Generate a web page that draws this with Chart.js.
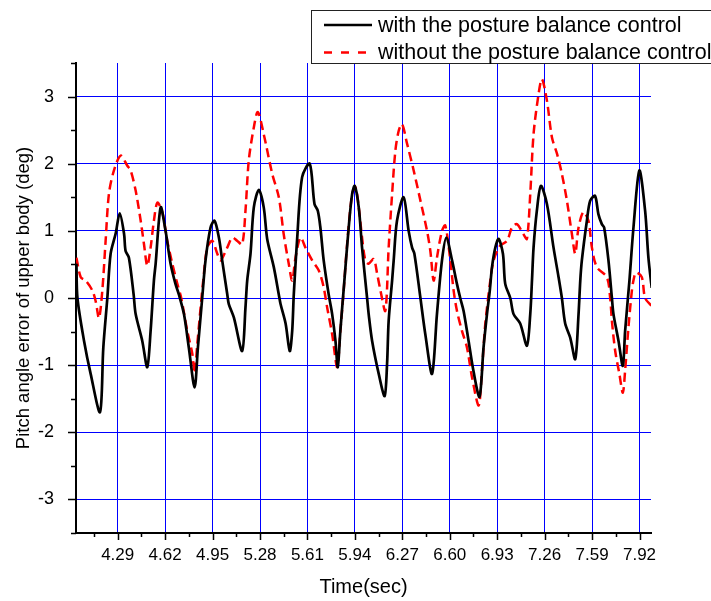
<!DOCTYPE html>
<html>
<head>
<meta charset="utf-8">
<script src="https://cdn.jsdelivr.net/npm/chart.js@4.4.1/dist/chart.umd.min.js"></script>
<style>
  html, body { margin: 0; padding: 0; background: #fff; }
  #wrap { width: 711px; height: 601px; }
</style>
</head>
<body>
<div id="wrap"><canvas id="myChart" width="711" height="601"></canvas></div>
<script>
const seriesNames = ['with the posture balance control', 'without the posture balance control'];

const timeWith = [4.003,4.010,4.056,4.102,4.167,4.190,4.218,4.241,4.276,4.304,
  4.334,4.345,4.368,4.401,4.415,4.461,4.496,4.519,4.542,4.554,
  4.589,4.623,4.658,4.692,4.716,4.751,4.785,4.825,4.848,4.878,
  4.901,4.936,4.964,4.994,5.017,5.052,5.063,5.098,5.156,5.179,
  5.191,5.214,5.237,5.272,5.306,5.330,5.376,5.411,5.423,5.458,
  5.487,5.504,5.515,5.539,5.573,5.626,5.659,5.682,5.700,5.723,
  5.758,5.782,5.805,5.821,5.839,5.867,5.897,5.921,5.939,5.967,
  5.990,6.025,6.036,6.060,6.106,6.147,6.164,6.175,6.199,6.210,
  6.233,6.279,6.314,6.338,6.354,6.396,6.430,6.477,6.511,6.546,
  6.576,6.616,6.650,6.673,6.696,6.731,6.766,6.807,6.835,6.859,
  6.878,6.894,6.917,6.940,6.970,6.986,7.021,7.044,7.090,7.137,
  7.160,7.172,7.183,7.206,7.234,7.276,7.322,7.357,7.380,7.403,
  7.438,7.473,7.496,7.508,7.519,7.554,7.577,7.611,7.634,7.658,
  7.674,7.704,7.728,7.739,7.774,7.804,7.820,7.850,7.878,7.919,
  7.959,7.982,8.005];
const pitchWith = [0.51,0,-0.64,-1.13,-1.70,-0.74,0,0.66,0.96,1.26,
  0.96,0.70,0.60,0.05,-0.24,-0.64,-1.03,-0.49,0.26,0.51,
  1.35,1.0,0.51,0.21,0.05,-0.24,-0.74,-1.33,-0.74,0,
  0.56,1.05,1.15,0.9,0.56,0.06,-0.09,-0.29,-0.79,-0.14,
  0.26,0.66,1.35,1.61,1.35,0.88,0.46,0.05,-0.09,-0.38,
  -0.79,-0.49,0.05,0.9,1.80,2.0,1.40,1.30,1.05,0.56,
  0.05,-0.24,-0.64,-1.03,-0.49,0.26,1.05,1.55,1.67,1.35,
  0.75,0,-0.24,-0.64,-1.13,-1.46,-0.98,-0.34,0.26,0.56,
  1.15,1.50,1.0,0.75,0.66,0,-0.54,-1.13,-0.24,0.56,
  0.90,0.56,0.21,0,-0.19,-0.64,-1.10,-1.47,-0.74,-0.24,
  0.10,0.46,0.75,0.88,0.66,0.21,0,-0.24,-0.38,-0.71,
  -0.24,0.26,0.75,1.30,1.67,1.40,0.75,0.31,0,-0.38,
  -0.59,-0.91,-0.24,0.26,0.56,1.15,1.45,1.52,1.25,1.10,
  1.05,0.56,0,-0.24,-0.64,-1.01,-0.49,0.26,1.05,1.90,
  1.30,0.6,0.15];

const timeWithout = [4.003,4.033,4.067,4.114,4.137,4.160,4.183,4.206,4.229,4.264,
  4.311,4.357,4.380,4.415,4.450,4.473,4.496,4.519,4.542,4.566,
  4.600,4.635,4.670,4.705,4.732,4.774,4.809,4.825,4.844,4.867,
  4.885,4.913,4.948,4.983,5.006,5.052,5.087,5.122,5.156,5.179,
  5.202,5.237,5.265,5.306,5.365,5.411,5.445,5.480,5.504,5.527,
  5.562,5.596,5.643,5.689,5.723,5.747,5.782,5.817,5.839,5.862,
  5.886,5.921,5.944,5.967,5.990,6.013,6.036,6.071,6.095,6.118,
  6.152,6.175,6.199,6.222,6.245,6.268,6.303,6.349,6.396,6.442,
  6.465,6.488,6.511,6.546,6.569,6.604,6.627,6.650,6.685,6.720,
  6.755,6.801,6.824,6.847,6.882,6.905,6.951,6.998,7.033,7.067,
  7.113,7.137,7.160,7.183,7.218,7.241,7.276,7.311,7.346,7.380,
  7.415,7.450,7.473,7.496,7.530,7.565,7.589,7.623,7.693,7.716,
  7.728,7.751,7.780,7.804,7.820,7.843,7.867,7.878,7.896,7.936,
  7.959,8.005];
const pitchWithout = [0.60,0.31,0.26,0.11,-0.05,-0.30,0.11,0.85,1.55,1.90,
  2.12,1.97,1.90,1.60,1.15,0.80,0.48,0.75,1.15,1.42,
  1.28,0.85,0.51,0.21,0.0,-0.49,-0.83,-1.12,-0.68,-0.14,
  0.26,0.75,0.85,0.66,0.56,0.75,0.90,0.85,0.80,1.30,
  2.05,2.54,2.77,2.44,1.85,1.50,0.95,0.51,0.26,0.60,
  0.90,0.75,0.56,0.41,0.16,-0.14,-0.54,-1.03,-0.49,0.11,
  0.80,1.55,1.65,1.35,0.90,0.56,0.51,0.58,0.36,0.11,
  -0.19,0.75,1.55,2.20,2.49,2.59,2.30,1.90,1.45,1.0,
  0.70,0.26,0.60,1.0,1.08,0.56,0.11,-0.19,-0.49,-0.74,
  -1.18,-1.60,-1.08,-0.39,0.26,0.56,0.78,0.85,1.05,1.10,
  0.95,0.88,1.55,2.44,3.04,3.26,2.94,2.39,2.15,1.85,
  1.45,0.95,0.66,1.05,1.28,1.15,0.75,0.46,0.31,0.0,
  -0.34,-0.79,-1.13,-1.41,-1.08,-0.44,0.11,0.26,0.38,0.31,
  0.0,-0.12];

const xTickLabels = ['4.29','4.62','4.95','5.28','5.61','5.94','6.27','6.60','6.93','7.26','7.59','7.92'];
const yTickLabels = ['-3','-2','-1','0','1','2','3'];

const toPoints = (xs, ys) => xs.map((x, i) => ({ x: x, y: ys[i] }));

// tick marks (major + minor) drawn outside the axes
const tickMarks = {
  id: 'tickMarks',
  afterDraw(chart) {
    const { ctx, chartArea, scales } = chart;
    ctx.save();
    ctx.strokeStyle = '#000';
    ctx.lineWidth = 1.5;
    const xs = scales.x, ys = scales.y;
    const xMaj = xTickLabels.map(parseFloat);
    const xStep = xMaj[1] - xMaj[0];
    const xMin = [xMaj[0] - xStep / 2].concat(xMaj.map(v => v + xStep / 2));
    const yMaj = yTickLabels.map(parseFloat);
    const yMin = [yMaj[0] - 0.5].concat(yMaj.map(v => v + 0.5));
    ctx.beginPath();
    xMaj.forEach(v => {
      const p = Math.round(xs.getPixelForValue(v)) + 0.5;
      ctx.moveTo(p, chartArea.bottom); ctx.lineTo(p, chartArea.bottom + 7);
    });
    xMin.forEach(v => {
      if (v < xs.min || v > xs.max) return;
      const p = Math.round(xs.getPixelForValue(v)) + 0.5;
      ctx.moveTo(p, chartArea.bottom); ctx.lineTo(p, chartArea.bottom + 4);
    });
    yMaj.forEach(v => {
      const p = Math.round(ys.getPixelForValue(v)) + 0.5;
      ctx.moveTo(chartArea.left, p); ctx.lineTo(chartArea.left - 8, p);
    });
    yMin.forEach(v => {
      if (v < ys.min || v > ys.max) return;
      const p = Math.round(ys.getPixelForValue(v)) + 0.5;
      ctx.moveTo(chartArea.left, p); ctx.lineTo(chartArea.left - 5, p);
    });
    ctx.stroke();
    ctx.restore();
  }
};

// boxed legend at the top right
const boxLegend = {
  id: 'boxLegend',
  afterDraw(chart) {
    const { ctx } = chart;
    ctx.save();
    ctx.strokeStyle = '#222';
    ctx.lineWidth = 1;
    ctx.strokeRect(311.5, 10.5, 460, 53);
    ctx.font = '21.5px "Liberation Sans", Arial, sans-serif';
    ctx.fillStyle = '#000';
    ctx.textBaseline = 'middle';
    const rows = [25, 52.5];
    chart.data.datasets.forEach((ds, i) => {
      const y = rows[i];
      ctx.beginPath();
      ctx.strokeStyle = ds.borderColor;
      ctx.lineWidth = 2.7;
      ctx.setLineDash(i === 1 ? [8, 9] : []);
      ctx.moveTo(324, y); ctx.lineTo(372, y);
      ctx.stroke();
      ctx.setLineDash([]);
      ctx.fillText(ds.label, 378, y + 1);
    });
    ctx.restore();
  }
};

Chart.defaults.color = '#000';
Chart.defaults.font.family = '"Liberation Sans", Arial, sans-serif';

const config = {
  type: 'line',
  data: {
    datasets: [
      {
        label: seriesNames[0],
        data: toPoints(timeWith, pitchWith),
        borderColor: '#000000',
        borderWidth: 2.7,
        pointRadius: 0,
        tension: 0.3,
        order: 1
      },
      {
        label: seriesNames[1],
        data: toPoints(timeWithout, pitchWithout),
        borderColor: '#ff0000',
        borderWidth: 2.5,
        borderDash: [9, 5],
        pointRadius: 0,
        tension: 0.3,
        order: 2
      }
    ]
  },
  options: {
    responsive: false,
    animation: false,
    layout: { padding: { left: 0, top: 63, right: 60, bottom: 0 } },
    plugins: { legend: { display: false }, tooltip: { enabled: false } },
    scales: {
      x: {
        type: 'linear',
        min: 4.0,
        max: 8.0,
        afterBuildTicks: (scale) => { scale.ticks = xTickLabels.map(v => ({ value: parseFloat(v) })); },
        afterFit: (scale) => { scale.height = 68; },
        ticks: {
          autoSkip: false,
          maxRotation: 0,
          padding: 12,
          font: { size: 17 },
          callback: (value, index) => xTickLabels[index]
        },
        grid: { color: '#0000ff', lineWidth: 1, drawTicks: false },
        border: { display: true, color: '#000', width: 2 },
        title: {
          display: true,
          text: 'Time(sec)',
          font: { size: 20 },
          padding: { top: 0, bottom: 2 }
        }
      },
      y: {
        type: 'linear',
        min: -3.5,
        max: 3.5,
        afterBuildTicks: (scale) => { scale.ticks = yTickLabels.map(v => ({ value: parseFloat(v) })); },
        afterFit: (scale) => { scale.width = 76; },
        ticks: {
          padding: 22,
          font: { size: 18 },
          callback: (value, index) => yTickLabels[index]
        },
        grid: { color: '#0000ff', lineWidth: 1, drawTicks: false },
        border: { display: true, color: '#000', width: 2 },
        title: {
          display: true,
          text: 'Pitch angle error of upper body (deg)',
          font: { size: 18.5 },
          padding: { top: 13, bottom: 0 }
        }
      }
    }
  },
  plugins: [tickMarks, boxLegend]
};

var myChart = new Chart(document.getElementById('myChart'), config);
</script>
</body>
</html>
